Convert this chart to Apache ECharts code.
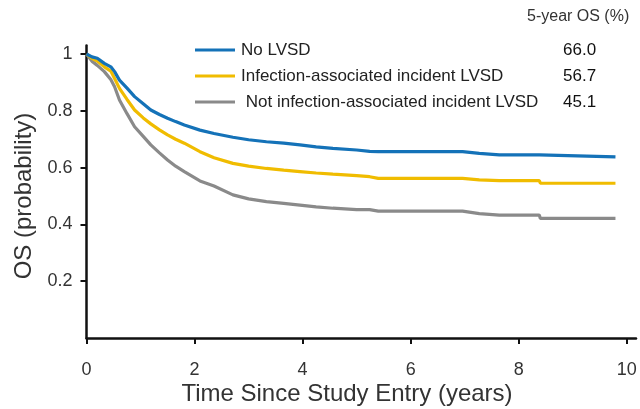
<!DOCTYPE html>
<html>
<head>
<meta charset="utf-8">
<script src="https://cdn.jsdelivr.net/npm/echarts@6/dist/echarts.min.js"></script>
<style>html,body{margin:0;padding:0;background:#fff}#c{width:640px;height:409px}</style>
</head>
<body>
<div id="c"></div>
<script>
const timeYears = [0,0.1,0.2,0.33,0.45,0.52,0.61,0.75,0.89,1.05,1.19,1.35,1.5,1.65,1.81,2.1,2.36,2.71,3.0,3.33,3.65,3.95,4.25,4.56,5.0,5.24,5.4,6.96,7.27,7.64,8.38,8.4,9.79];
const noLVSD = [1,0.99,0.985,0.967,0.955,0.938,0.908,0.88,0.85,0.825,0.803,0.787,0.774,0.762,0.75,0.732,0.72,0.707,0.698,0.691,0.686,0.68,0.673,0.668,0.662,0.657,0.656,0.656,0.65,0.645,0.645,0.638,0.638];
const infectionLVSD = [1,0.985,0.975,0.955,0.94,0.914,0.879,0.84,0.803,0.775,0.754,0.733,0.715,0.70,0.686,0.656,0.635,0.615,0.605,0.597,0.591,0.586,0.581,0.577,0.572,0.568,0.562,0.562,0.557,0.554,0.554,0.545,0.545];
const notInfectionLVSD = [1,0.975,0.96,0.938,0.91,0.885,0.838,0.79,0.744,0.71,0.68,0.652,0.627,0.605,0.586,0.553,0.535,0.504,0.49,0.48,0.474,0.468,0.462,0.457,0.452,0.452,0.447,0.447,0.438,0.433,0.433,0.421,0.421];
const seriesNames = ['No LVSD','Infection-associated incident LVSD',' Not infection-associated incident LVSD'];
const fiveYearOS = ['66.0','56.7','45.1'];
const xTicks = [0,2,4,6,8,10];
const yTicks = [0.2,0.4,0.6,0.8,1];
const yTickLabels = ['0.2','0.4','0.6','0.8','1'];
const colors = ['#1472b8','#f0bc00','#8a8a8a'];

const FONT = "'Liberation Sans', Arial, sans-serif";
const chart = echarts.init(document.getElementById('c'), null, {renderer:'canvas'});
const allSeries = [noLVSD, infectionLVSD, notInfectionLVSD];

const rowY = [50, 76, 102];
const graphic = [];
seriesNames.forEach((n, i) => {
  graphic.push({type:'line', shape:{x1:195, y1:rowY[i], x2:235, y2:rowY[i]}, style:{stroke:colors[i], lineWidth:3}});
  graphic.push({type:'text', x:241, y:rowY[i], style:{text:n, font:'17px ' + FONT, fill:'#222', textVerticalAlign:'middle'}});
  graphic.push({type:'text', x:563, y:rowY[i], style:{text:fiveYearOS[i], font:'500 17px ' + FONT, fill:'#111', textVerticalAlign:'middle'}});
});
graphic.push({type:'text', x:527, y:17, style:{text:'5-year OS (%)', font:'16px ' + FONT, fill:'#333', textVerticalAlign:'middle'}});
graphic.push({type:'text', x:347, y:394, style:{text:'Time Since Study Entry (years)', font:'24px ' + FONT, fill:'#333', textAlign:'center', textVerticalAlign:'middle'}});
graphic.push({type:'text', x:24, y:196, rotation:Math.PI/2, style:{text:'OS (probability)', font:'24px ' + FONT, fill:'#333', textAlign:'center', textVerticalAlign:'middle'}});

chart.setOption({
  animation:false,
  backgroundColor:'#fff',
  grid:{left:86.5, right:4, top:45.5, bottom:71, containLabel:false},
  xAxis:{
    type:'value', min:0, max:10.17,
    axisLine:{show:true, onZero:false, lineStyle:{color:'#111', width:2.5}},
    axisTick:{show:true, length:6, lineStyle:{color:'#111', width:2}, customValues:xTicks},
    axisLabel:{customValues:xTicks, margin:23, fontSize:18, fontFamily:FONT, color:'#333'},
    splitLine:{show:false}
  },
  yAxis:{
    type:'value', min:0, max:1.03,
    axisLine:{show:true, onZero:false, lineStyle:{color:'#111', width:2.5}},
    axisTick:{show:true, length:6, lineStyle:{color:'#111', width:2}, customValues:yTicks},
    axisLabel:{customValues:yTicks, margin:14, fontSize:18, fontFamily:FONT, color:'#333',
      formatter:(v)=>{const k = yTicks.findIndex(t=>Math.abs(t-v)<1e-6); return k>=0 ? yTickLabels[k] : '';}},
    splitLine:{show:false}
  },
  series: allSeries.slice().reverse().map((vals, ri) => {
    const i = allSeries.length - 1 - ri;
    return {
      type:'line', name:seriesNames[i], showSymbol:false, symbol:'none',
      lineStyle:{color:colors[i], width:3.2},
      data: timeYears.map((t, k) => [t, vals[k]])
    };
  }),
  graphic: graphic
});
</script>
</body>
</html>
